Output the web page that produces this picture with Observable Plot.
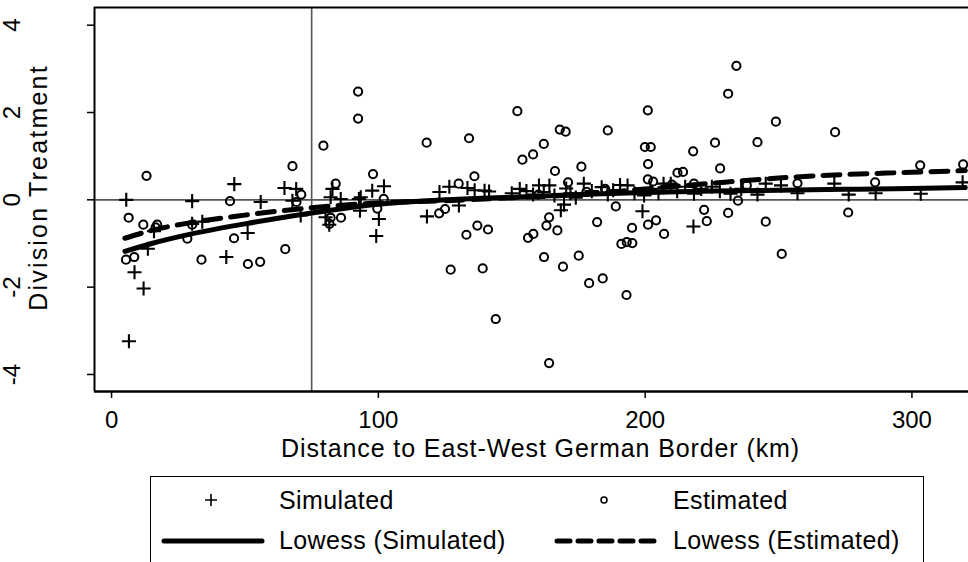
<!DOCTYPE html>
<html>
<head>
<meta charset="utf-8">
<script src="https://cdn.jsdelivr.net/npm/d3@7"></script>
<script src="https://cdn.jsdelivr.net/npm/@observablehq/plot@0.6"></script>
<style>
  html, body { margin: 0; padding: 0; background: #fff; overflow: hidden; }
  #wrap { position: relative; width: 968px; height: 562px; font-family: "Liberation Sans", Arial, sans-serif; }
  #legend { position: absolute; left: 150px; top: 476px; width: 774px; height: 120px; border: 1.5px solid #000; box-sizing: border-box; }
  .lg { position: absolute; font-size: 25px; color: #000; white-space: nowrap; line-height: 1; letter-spacing: 0.4px; }
  .sym { position: absolute; }
</style>
</head>
<body>
<div id="wrap">
  <div id="chart"></div>
  <div id="legend"></div>
</div>
<script>
// Simulated (crosses)
const simX = [5.5, 6.5, 8.6, 12.0, 13.6, 15.9, 30.2, 30.2, 34.0, 43.0, 46.0, 51.0, 55.9, 64.8, 69.2, 67.8, 70.9, 81.6, 80.2, 82.1, 82.8, 85.9, 93.1, 93.4, 92.7, 97.7, 102.1, 100.2, 99.2, 118.2, 122.9, 126.6, 130.2, 133.4, 136.1, 139.8, 141.5, 150, 153, 155.5, 158, 160.2, 162, 164.1, 166, 168.4, 169.6, 170.4, 172, 174, 177, 180, 183.7, 186, 188, 190.6, 193.4, 196, 199, 199.6, 202, 205, 206.9, 209.6, 212, 215, 218.1, 218.3, 221, 225, 228, 232, 236, 242.1, 245.2, 250.9, 257.1, 270.9, 276.3, 286.4, 303.3, 319];
const simY = [0.00, -3.24, -1.66, -2.03, -1.12, -0.72, -0.03, -0.55, -0.50, -1.31, 0.36, -0.76, -0.05, 0.27, 0.25, -0.02, -0.36, -0.57, -0.40, 0.06, 0.25, 0.02, -0.25, 0.06, 0.02, 0.21, 0.31, -0.44, -0.83, -0.38, 0.18, 0.30, -0.13, 0.27, 0.22, 0.21, 0.19, 0.15, 0.25, 0.20, 0.12, 0.33, 0.18, 0.33, 0.10, -0.24, -0.11, 0.26, 0.15, 0.05, 0.37, 0.20, 0.29, 0.12, 0.22, 0.34, 0.33, 0.15, -0.26, 0.10, 0.25, 0.15, 0.37, 0.37, 0.20, 0.30, -0.61, 0.14, 0.25, 0.30, 0.20, 0.14, 0.25, 0.12, 0.37, 0.33, 0.15, 0.37, 0.12, 0.15, 0.14, 0.40];
// Estimated (circles)
const estX = [5.4, 6.4, 8.5, 11.9, 13.1, 16.5, 17.1, 28.4, 30.2, 33.7, 44.4, 45.9, 51.1, 55.7, 65.1, 67.8, 69.3, 71.1, 79.4, 81.7, 82.1, 84.0, 86.0, 92.4, 92.4, 98.0, 99.6, 102.0, 118.1, 122.8, 125.0, 127.1, 130.1, 133.0, 134.0, 136.0, 137.1, 139.1, 141.1, 144.0, 152.1, 154.0, 156.1, 158.0, 158.1, 160, 162.0, 162.1, 163.0, 164.0, 164.0, 166.2, 167.1, 168.0, 169.2, 170.2, 171.1, 175.1, 176.1, 178, 179.0, 182.0, 184.1, 185, 186.0, 189.0, 191.1, 193.0, 193.1, 195.1, 195.2, 199.9, 202.1, 201.0, 201.1, 201.0, 203.0, 201.1, 204.1, 207.1, 210, 212.1, 214.2, 218.0, 218.3, 222.1, 223.1, 226.2, 228.1, 231.1, 231.1, 234.2, 234.8, 238.1, 242.1, 245.2, 249.0, 251.2, 257.1, 271.2, 276.1, 286.2, 303.1, 319.2];
const estY = [-1.37, -0.41, -1.31, -0.57, 0.55, -0.63, -0.57, -0.89, -0.57, -1.37, -0.03, -0.88, -1.47, -1.42, -1.13, 0.77, -0.05, 0.12, 1.24, -0.55, -0.41, 0.37, -0.41, 2.48, 1.86, 0.59, -0.20, 0.02, 1.31, -0.31, -0.21, -1.60, 0.37, -0.80, 1.41, 0.54, -0.59, -1.57, -0.68, -2.73, 2.03, 0.92, -0.87, 1.04, -0.78, 0.12, 1.28, -1.31, -0.59, -0.40, -3.74, 0.66, -0.70, 1.61, -1.53, 1.56, 0.40, -1.28, 0.76, 0.18, -1.91, -0.51, -1.80, 0.25, 1.59, -0.15, -1.01, -2.18, -0.97, -0.64, -0.99, 1.21, 1.21, 2.05, 0.82, 0.47, 0.42, -0.57, -0.47, -0.78, 0.35, 0.62, 0.64, 1.11, 0.37, -0.23, -0.49, 1.31, 0.72, 2.43, -0.30, 3.07, -0.02, 0.33, 1.32, -0.50, 1.79, -1.24, 0.38, 1.55, -0.29, 0.40, 0.79, 0.81];
// Lowess curves
const lowX = [5, 15, 30, 50, 75, 100, 125, 150, 175, 200, 225, 250, 275, 300, 320];
const lowSim = [-1.18, -1.0, -0.78, -0.55, -0.3, -0.1, 0.0, 0.06, 0.12, 0.17, 0.2, 0.22, 0.24, 0.26, 0.28];
const lowEst = [-0.88, -0.7, -0.52, -0.35, -0.18, -0.07, -0.02, 0.05, 0.12, 0.25, 0.38, 0.5, 0.58, 0.63, 0.67];
const xTicks = [0, 100, 200, 300];
const yTicks = [-4, -2, 0, 2, 4];
const xLabel = "Distance to East-West German Border (km)";
const yLabel = "Division Treatment";
const legendLabels = ["Simulated", "Estimated", "Lowess (Simulated)", "Lowess (Estimated)"];

const sim = simX.map((x, i) => ({x, y: simY[i]}));
const est = estX.map((x, i) => ({x, y: estY[i]}));
const lowS = lowX.map((x, i) => ({x, y: lowSim[i]}));
const lowE = lowX.map((x, i) => ({x, y: lowEst[i]}));

const xDom = [-6.4, 321.2], yDom = [-4.39, 4.405];

const chart = Plot.plot({
  width: 968, height: 470,
  marginLeft: 94, marginRight: 0, marginTop: 7, marginBottom: 79,
  x: {domain: xDom}, y: {domain: yDom},
  style: {fontFamily: "Liberation Sans, Arial, sans-serif", fontSize: "24px", color: "#000", background: "#fff", overflow: "visible"},
  marks: [
    Plot.ruleX([75], {stroke: "#555", strokeWidth: 1.6}),
    Plot.ruleY([0], {stroke: "#555", strokeWidth: 1.6}),
    Plot.dot(sim, {x: "x", y: "y", symbol: "plus", r: 4.6, stroke: "#000", strokeWidth: 2.1}),
    Plot.dot(est, {x: "x", y: "y", symbol: "circle", r: 4.1, stroke: "#000", strokeWidth: 2, fill: "none"}),
    Plot.line(lowS, {x: "x", y: "y", curve: "monotone-x", stroke: "#000", strokeWidth: 5}),
    Plot.line(lowE, {x: "x", y: "y", curve: "monotone-x", stroke: "#000", strokeWidth: 5, strokeDasharray: "17,10", strokeLinecap: "round"}),
    Plot.ruleY([yDom[1]], {stroke: "#000", strokeWidth: 2}),
    Plot.ruleY([yDom[0]], {stroke: "#000", strokeWidth: 2.5}),
    Plot.ruleX([xDom[0]], {stroke: "#000", strokeWidth: 2}),
    Plot.axisX({ticks: xTicks, tickSize: 7, tickPadding: 12, label: null, fontSize: 24, strokeWidth: 1.5}),
    Plot.axisY({ticks: yTicks, tickSize: 7, tickFormat: () => "", label: null, strokeWidth: 1.5}),
    Plot.text(yTicks, {y: d => d, text: d => String(d), frameAnchor: "left", dx: -82, rotate: -90, textAnchor: "middle", lineAnchor: "middle", fontSize: 24, fill: "#000"}),
    Plot.text([xLabel], {text: d => d, frameAnchor: "bottom", textAnchor: "middle", dx: 9, dy: 57, lineAnchor: "middle", fontSize: 25, fill: "#000", className: "xlab"}),
    Plot.text([yLabel], {text: d => d, frameAnchor: "left", textAnchor: "middle", dx: -56, dy: -12, rotate: -90, lineAnchor: "middle", fontSize: 25, fill: "#000", className: "ylab"})
  ]
});
document.getElementById("chart").appendChild(chart);
chart.querySelectorAll(".xlab text").forEach(t => t.style.letterSpacing = "0.9px");
chart.querySelectorAll(".ylab text").forEach(t => t.style.letterSpacing = "2.2px");

// Legend
const lg = document.getElementById("legend");
const ox = 150, oy = 476;
function addText(t, x, yc) {
  const d = document.createElement("div");
  d.className = "lg"; d.textContent = t;
  d.style.left = (x - ox) + "px"; d.style.top = (yc - oy - 13) + "px";
  lg.appendChild(d);
}
function addSvg(inner, x, y, w, h) {
  const ns = "http://www.w3.org/2000/svg";
  const s = document.createElementNS(ns, "svg");
  s.setAttribute("width", w); s.setAttribute("height", h);
  s.setAttribute("class", "sym");
  s.style.left = (x - ox) + "px"; s.style.top = (y - oy) + "px";
  s.innerHTML = inner;
  lg.appendChild(s);
}
addSvg('<path d="M1,7H13M7,1V13" stroke="#000" stroke-width="1.6" fill="none"/>', 203, 492, 14, 14);
addText(legendLabels[0], 278, 500);
addSvg('<circle cx="5" cy="5" r="3" stroke="#000" stroke-width="1.5" fill="none"/>', 598, 494, 10, 10);
addText(legendLabels[1], 672, 500);
addSvg('<line x1="3" y1="5" x2="101" y2="5" stroke="#000" stroke-width="5" stroke-linecap="round"/>', 160, 535, 104, 10);
addText(legendLabels[2], 278, 540);
addSvg('<line x1="3" y1="5" x2="101" y2="5" stroke="#000" stroke-width="5" stroke-dasharray="13,8" stroke-linecap="round"/>', 553, 535, 104, 10);
addText(legendLabels[3], 672, 540);
</script>
</body>
</html>
